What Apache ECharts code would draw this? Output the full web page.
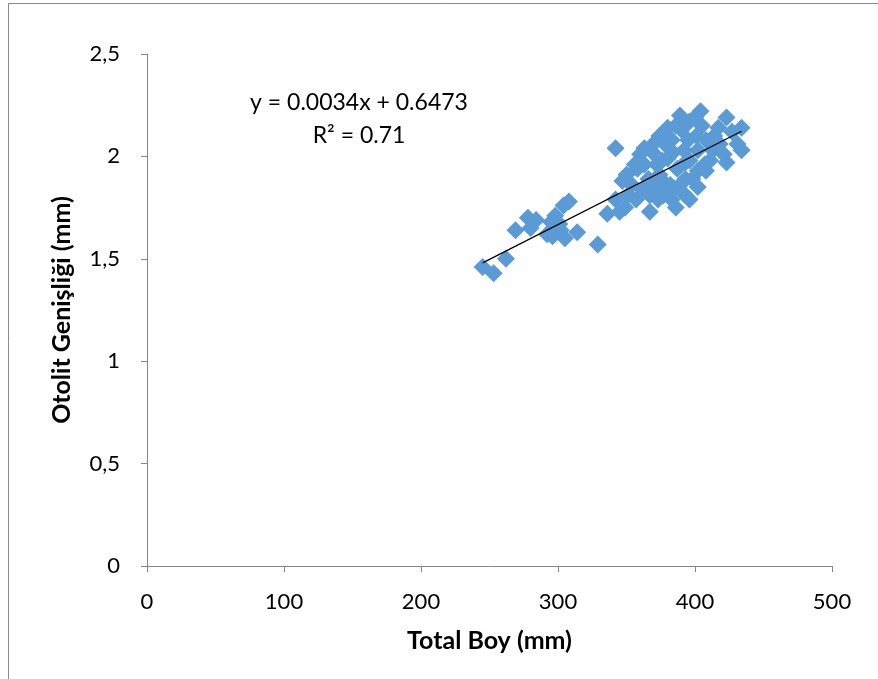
<!DOCTYPE html>
<html><head><meta charset="utf-8">
<script src="https://cdn.jsdelivr.net/npm/echarts@6/dist/echarts.min.js"></script>
<style>html,body{margin:0;padding:0;background:#fff}#c{width:878px;height:679px}</style>
</head><body><div id="c"></div>
<script>
const totalBoy = [245,253,262,269,278,284,280,292,296,298,301,304,308,305,314,329,302,295,
342,336,345,347,351,354,357,358,363,366,367,369,371,373,374,376,378,380,382,383,386,387,
389,390,392,393,395,396,398,400,401,402,404,405,407,408,411,414,417,418,421,423,423,427,
431,434,434,396,389,386,374,371,363,360,356,350,362,367,377,383,393,402,402,413,408,396,
385,378,372,380,393,384,342,349];
const otolitGenislik = [1.46,1.43,1.50,1.64,1.70,1.69,1.65,1.62,1.61,1.71,1.67,1.76,1.78,1.60,1.63,1.57,1.64,1.68,
2.04,1.72,1.73,1.88,1.81,1.86,1.79,1.94,1.96,1.89,1.73,2.02,1.85,1.79,1.91,1.98,2.06,1.99,1.86,2.08,1.75,1.94,
1.86,2.13,2.03,1.81,2.08,1.98,1.89,2.19,2.10,2.03,2.22,2.15,1.96,1.93,1.98,2.10,2.14,2.06,2.01,1.97,2.19,2.12,
2.06,2.14,2.03,2.17,2.20,2.15,2.10,2.07,2.04,2.01,1.96,1.91,1.84,1.81,1.81,1.79,1.89,1.85,1.93,2.03,2.08,1.79,
1.84,1.87,1.96,2.14,1.97,2.02,1.79,1.75];
const slope = 0.0034, intercept = 0.6473;
const equationText = 'y = 0.0034x + 0.6473';
const r2Text = 'R² = 0.71';
const xTitle = 'Total Boy (mm)';
const yTitle = 'Otolit Genişliği (mm)';

const pts = totalBoy.map((x,i)=>[x, otolitGenislik[i]]);
const xMin = Math.min(...totalBoy), xMax = Math.max(...totalBoy);
const trend = [[xMin, slope*xMin+intercept],[xMax, slope*xMax+intercept]];
const FONT = 'Lato, "Open Sans", sans-serif';
const chart = echarts.init(document.getElementById('c'));
chart.setOption({
  animation:false,
  backgroundColor:'#fff',
  grid:{left:147,right:46,top:54,bottom:113},
  xAxis:{type:'value',min:0,max:500,interval:100,
    axisLine:{lineStyle:{color:'#868686'}},
    axisTick:{show:true,length:6,lineStyle:{color:'#868686'}},
    splitLine:{show:false},
    axisLabel:{color:'#000',fontSize:22,fontFamily:FONT,margin:25},
    name:xTitle,nameLocation:'middle',nameGap:62,
    nameTextStyle:{color:'#000',fontSize:25,fontWeight:'bold',fontFamily:FONT}},
  yAxis:{type:'value',min:0,max:2.5,interval:0.5,
    axisLine:{show:true,lineStyle:{color:'#868686'}},
    axisTick:{show:true,length:6,lineStyle:{color:'#868686'}},
    splitLine:{show:false},
    axisLabel:{color:'#000',fontSize:22,fontFamily:FONT,margin:27,
      formatter:v=>String(v).replace('.',',')},
    name:yTitle,nameLocation:'middle',nameGap:73,
    nameTextStyle:{color:'#000',fontSize:25,fontWeight:'bold',fontFamily:FONT}},
  series:[
    {type:'scatter',data:pts,symbol:'diamond',symbolSize:18,
     itemStyle:{color:'#5B9BD5',opacity:1},z:2},
    {type:'line',data:trend,symbol:'none',lineStyle:{color:'#000',width:1.3},z:3}
  ],
  graphic:[
    {type:'line',shape:{x1:8.5,y1:3.5,x2:8.5,y2:679},style:{stroke:'#8a8a8a',lineWidth:1}},
    {type:'line',shape:{x1:8.5,y1:3.5,x2:878,y2:3.5},style:{stroke:'#8a8a8a',lineWidth:1}},
    {type:'text',x:359,y:103,style:{text:equationText,textAlign:'center',textVerticalAlign:'middle',fontSize:23,fontFamily:FONT,fill:'#000'}},
    {type:'text',x:359,y:136,style:{text:r2Text,textAlign:'center',textVerticalAlign:'middle',fontSize:23,fontFamily:FONT,fill:'#000'}}
  ]
});
</script></body></html>
